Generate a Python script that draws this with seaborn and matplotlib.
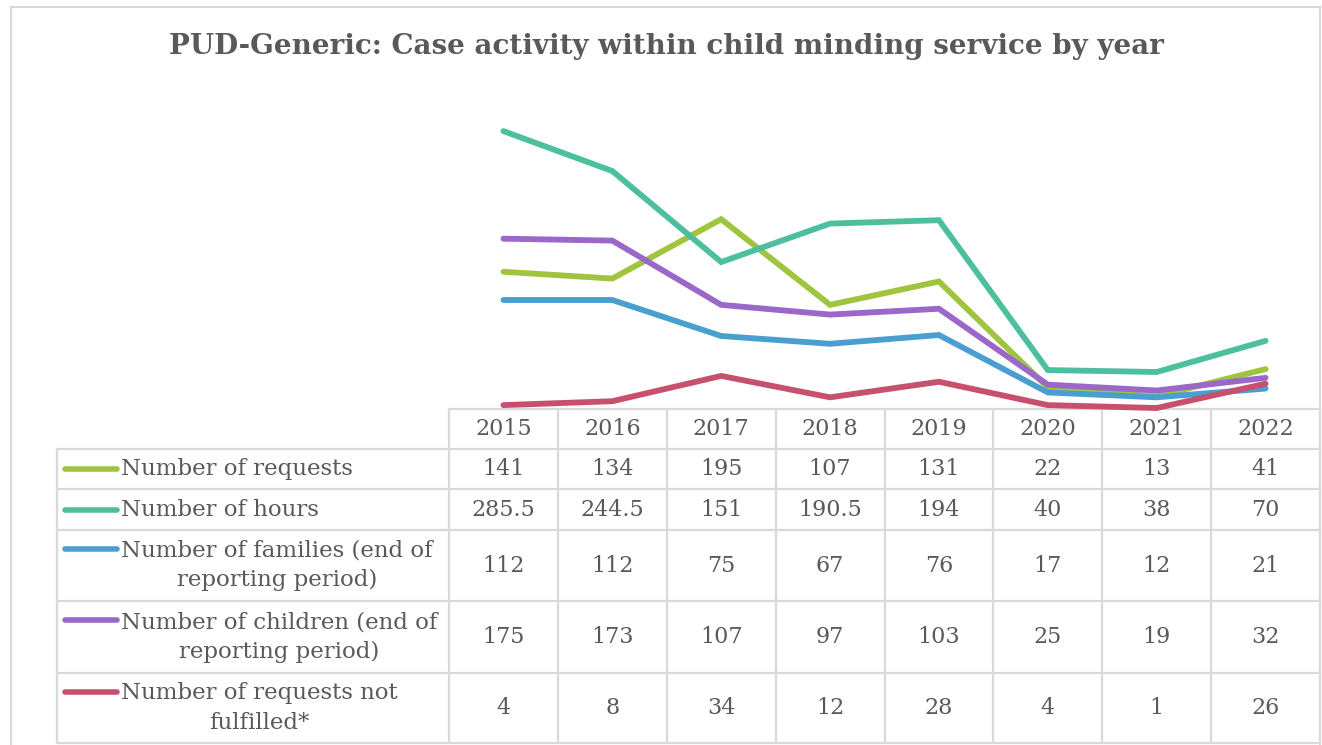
import matplotlib
matplotlib.use('agg')
import matplotlib.pyplot as plt
import seaborn as sns
import pandas as pd
from matplotlib.lines import Line2D

years = ["2015", "2016", "2017", "2018", "2019", "2020", "2021", "2022"]
series_names = [
    "Number of requests",
    "Number of hours",
    "Number of families (end of\nreporting period)",
    "Number of children (end of\nreporting period)",
    "Number of requests not\nfulfilled*",
]
requests = [141, 134, 195, 107, 131, 22, 13, 41]
hours = [285.5, 244.5, 151, 190.5, 194, 40, 38, 70]
families = [112, 112, 75, 67, 76, 17, 12, 21]
children = [175, 173, 107, 97, 103, 25, 19, 32]
not_fulfilled = [4, 8, 34, 12, 28, 4, 1, 26]
colors = ["#9fc43e", "#4dbf9f", "#4a9fd0", "#9b67c9", "#c8506f"]

all_values = [requests, hours, families, children, not_fulfilled]

rows = []
for name, vals in zip(series_names, all_values):
    for i, (y, v) in enumerate(zip(years, vals)):
        rows.append({"series": name, "idx": i, "year": y, "value": v})
df = pd.DataFrame(rows)

W, H = 1322, 745
TEXT = "#595959"
GRID = "#d9d9d9"

sns.set_style("white")
plt.rcParams['font.family'] = ['DejaVu Serif']

fig = plt.figure(figsize=(W / 100, H / 100), dpi=100)


def fx(px):
    return px / W


def fy(py):
    return 1 - py / H


# chart area: columns span 449..1320, zero line at y=409
x0, x1 = 449, 1320
ytop, ybot = 117, 409
ax = fig.add_axes([fx(x0), fy(ybot), fx(x1 - x0), (ybot - ytop) / H])
ax.set_zorder(3)
ax.patch.set_alpha(0)
sns.lineplot(data=df, x="idx", y="value", hue="series", palette=colors,
             hue_order=series_names, linewidth=4.2, legend=False, ax=ax)
for ln in ax.lines:
    ln.set_clip_on(False)
    ln.set_solid_capstyle("round")
    ln.set_solid_joinstyle("miter")
ax.set_xlim(-0.5, 7.5)
ax.set_ylim(0, 300)
ax.axis("off")

# outer frame
fig.add_artist(plt.Rectangle((fx(11), fy(760)), fx(1320 - 11), (760 - 7) / H,
                             fill=False, ec=GRID, lw=1.5, transform=fig.transFigure))

fig.text(fx(666), fy(47), "PUD-Generic: Case activity within child minding service by year",
         ha="center", va="center", fontsize=20, fontweight="bold", color=TEXT)

# data table
row_edges = [409, 449, 489, 530, 601, 673, 743]
col_w = (x1 - x0) / len(years)
col_edges = [x0 + i * col_w for i in range(len(years) + 1)]
tbl_left = 57


def hline(y, xa, xb):
    fig.add_artist(Line2D([fx(xa), fx(xb)], [fy(y), fy(y)], color=GRID, lw=1.6,
                          transform=fig.transFigure))


def vline(x, ya, yb):
    fig.add_artist(Line2D([fx(x), fx(x)], [fy(ya), fy(yb)], color=GRID, lw=1.6,
                          transform=fig.transFigure))


hline(row_edges[0], x0, x1)
for y in row_edges[1:]:
    hline(y, tbl_left, x1)
vline(tbl_left, row_edges[1], row_edges[-1])
for x in col_edges:
    vline(x, row_edges[0], row_edges[-1])

for i, y in enumerate(years):
    fig.text(fx(x0 + (i + 0.5) * col_w), fy((row_edges[0] + row_edges[1]) / 2), y,
             ha="center", va="center", fontsize=16, color=TEXT)

for r, (name, vals, c) in enumerate(zip(series_names, all_values, colors)):
    ya, yb = row_edges[r + 1], row_edges[r + 2]
    ym = (ya + yb) / 2
    first_line = ya + 19 if "\n" in name else ym
    fig.add_artist(Line2D([fx(65), fx(117)], [fy(first_line), fy(first_line)], color=c,
                          lw=4, solid_capstyle="round", transform=fig.transFigure))
    fig.text(fx(121), fy(ym), name, ha="left", va="center", multialignment="center",
             fontsize=16.5, color=TEXT, linespacing=1.45)
    for i, v in enumerate(vals):
        label = f"{v:g}"
        fig.text(fx(x0 + (i + 0.5) * col_w), fy(ym), label,
                 ha="center", va="center", fontsize=16, color=TEXT)

plt.savefig("out.png", dpi=100)
plt.close()
